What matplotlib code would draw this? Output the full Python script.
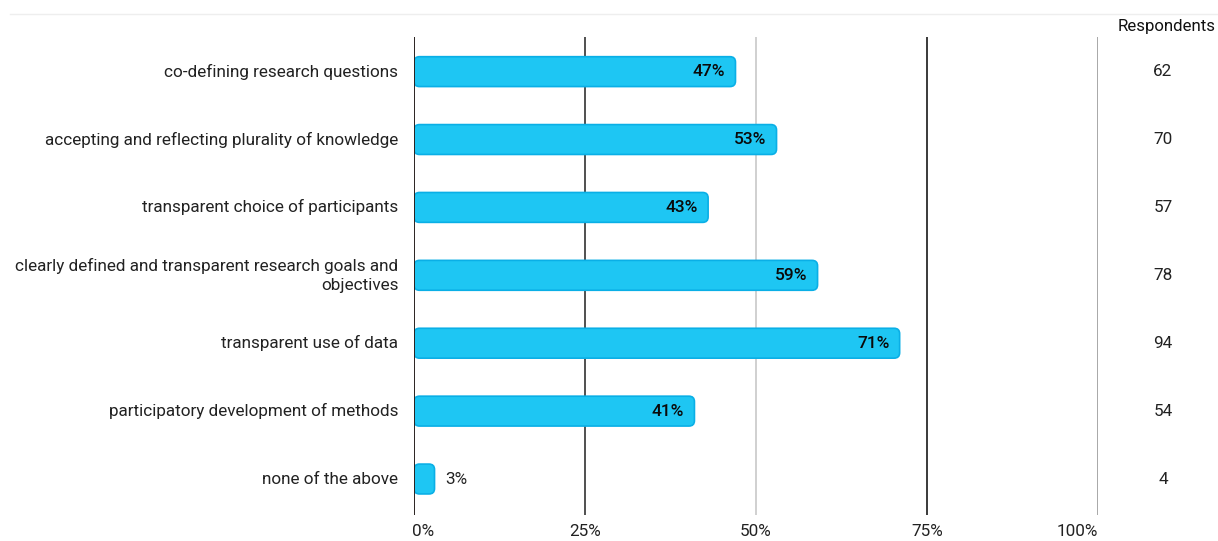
import matplotlib.pyplot as plt
from matplotlib.patches import FancyBboxPatch
from matplotlib.lines import Line2D

plt.rcParams['font.family'] = ['Roboto', 'DejaVu Sans']

# survey answers, top to bottom
categories = [
    'co-defining research questions',
    'accepting and reflecting plurality of knowledge',
    'transparent choice of participants',
    'clearly defined and transparent research goals and\nobjectives',
    'transparent use of data',
    'participatory development of methods',
    'none of the above',
]
shares = [47, 53, 43, 59, 71, 41, 3]
respondents = [62, 70, 57, 78, 94, 54, 4]
x_ticks = [0, 25, 50, 75, 100]
x_tick_labels = ['0%', '25%', '50%', '75%', '100%']

bar_color = '#1ec6f3'
edge_color = '#0aafe6'
fs = 12.3

fig = plt.figure(figsize=(12.18, 5.41), dpi=100)
ax = fig.add_axes([414 / 1218, 1 - 515 / 541, (1098 - 414) / 1218, (515 - 37) / 541])

ypos = list(range(len(categories)))
bars = ax.barh(ypos, shares, height=0.44, color='none')

# swap plain rectangles for rounded ones
px_x = ax.get_position().width * 1218 / 100
px_y = ax.get_position().height * 541 / 7.04
for rect in bars.patches:
    x0, y0 = rect.get_x(), rect.get_y()
    w, h = rect.get_width(), rect.get_height()
    rr = FancyBboxPatch((x0, y0), w, h,
                        boxstyle='round,pad=0,rounding_size=0.8',
                        mutation_aspect=px_x / px_y,
                        facecolor=bar_color, edgecolor=edge_color,
                        linewidth=1.2, zorder=2)
    ax.add_patch(rr)
    rect.remove()

# vertical grid lines, each a slightly different grey
grid_colors = ['#2a2320', '#505050', '#d0d0d0', '#3a3a3a', '#a8a8a8']
for xv, gc in zip(x_ticks, grid_colors):
    ax.axvline(xv, color=gc, linewidth=1.4, zorder=3 if xv == 0 else 1)

ax.set_xlim(0, 100)
ax.set_ylim(6.53, -0.51)
ax.set_xticks([])
ax.set_yticks([])
for s in ax.spines.values():
    s.set_visible(False)

# category labels on the left
for y, cat in zip(ypos, categories):
    ax.text(-2.3, y, cat, ha='right', va='center', fontsize=fs,
            color='#222222', linespacing=1.3)

# value labels on bars
for y, v in zip(ypos, shares):
    if v > 10:
        ax.text(v - 1.5, y, f'{v}%', ha='right', va='center', fontsize=12.5,
                fontweight='medium', color='#0a0a0a', zorder=4)
    else:
        ax.text(v + 1.5, y, f'{v}%', ha='left', va='center', fontsize=fs,
                color='#222222', zorder=4)

# x tick labels below the plot
for xv, lab in zip(x_ticks, x_tick_labels):
    ha = 'left' if xv == 0 else ('right' if xv == 100 else 'center')
    ax.text(xv - 0.3 if xv == 0 else xv, 6.78, lab, ha=ha, va='center', fontsize=fs,
            color='#222222', clip_on=False)

# respondents column
ax.text(110.1, -0.66, 'Respondents', ha='center', va='center', fontsize=12.1,
        color='#111111', clip_on=False)
for y, n in zip(ypos, respondents):
    ax.text(109.5, y, str(n), ha='center', va='center', fontsize=fs,
            color='#222222', clip_on=False)

# faint frame line across the top
fig.add_artist(Line2D([10 / 1218, 1], [1 - 14 / 541, 1 - 14 / 541],
                      color='#eeeeee', linewidth=1))

fig.savefig('out.png', dpi=100)
